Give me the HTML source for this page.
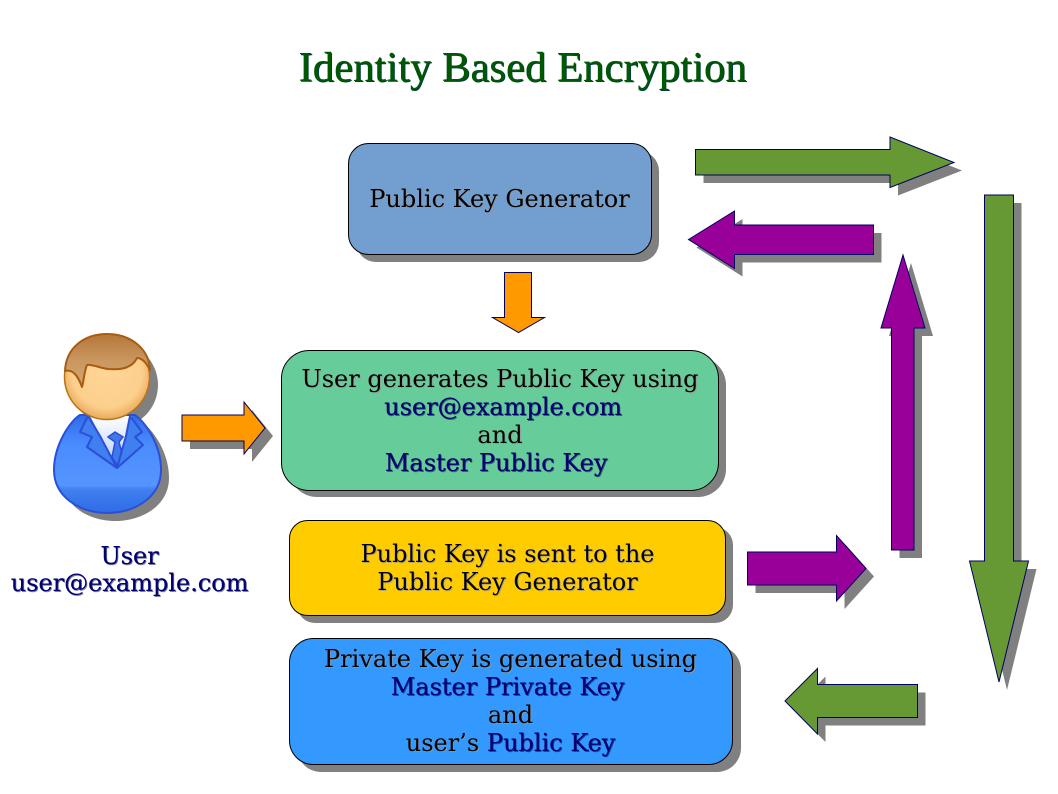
<!DOCTYPE html>
<html><head><meta charset="utf-8"><style>
html,body{margin:0;padding:0;background:#fff}
#c{position:relative;width:1058px;height:794px;overflow:hidden;background:#fff}
svg{position:absolute;left:0;top:0}
.t{position:absolute;font-family:"DejaVu Serif",serif;font-size:24px;line-height:28px;text-align:center;white-space:nowrap;color:#000;text-shadow:1px 1px 0 rgba(150,150,150,.7)}
.b{color:#000070;text-shadow:1px 1px 0 rgba(0,0,80,.5),.5px 0 0 rgba(0,0,100,.5)}
#title{position:absolute;left:222.500px;width:600px;top:43px;text-align:center;font-family:"Liberation Serif",serif;font-size:42.700px;line-height:50px;color:#005800;text-shadow:1px 1px 0 #004040;white-space:nowrap}
</style></head><body><div id="c">
<svg width="1058" height="794" viewBox="0 0 1058 794">
<defs>
<radialGradient id="sk" cx=".5" cy=".45" r=".55"><stop offset="0" stop-color="#ffd596"/><stop offset=".75" stop-color="#fccf8c"/><stop offset="1" stop-color="#e9a95c"/></radialGradient>
<linearGradient id="hr" x1="0" y1="0" x2="0" y2="1"><stop offset="0" stop-color="#b5763a"/><stop offset=".5" stop-color="#c9975f"/><stop offset="1" stop-color="#d3a670"/></linearGradient>
<linearGradient id="bd" x1="0" y1="0" x2="0" y2="1"><stop offset="0" stop-color="#2f6ae6"/><stop offset=".3" stop-color="#4a8cff"/><stop offset=".72" stop-color="#5595ff"/><stop offset=".76" stop-color="#4080f0"/><stop offset="1" stop-color="#2f6be6"/></linearGradient>
<linearGradient id="sh" x1="0" y1="0" x2="0" y2="1"><stop offset="0" stop-color="#fff"/><stop offset="1" stop-color="#b5ccff"/></linearGradient>
</defs>
<!-- shadows -->
<g fill="#808080">
<rect x="356" y="151" width="303" height="111" rx="20"/>
<rect x="289" y="357" width="437" height="140" rx="28"/>
<rect x="297" y="527" width="436" height="96" rx="18"/>
<rect x="297" y="646" width="444" height="126" rx="24"/>
<path transform="translate(8 8)" d="M695.500 149.500H890V137L954 162.500L890 187.500V175H695.500Z"/>
<path transform="translate(8 8)" d="M688.500 239.500L734.500 211V225H873.500V254.500H734.500V268.500Z"/>
<path transform="translate(8 8)" d="M182 415H244V402L265 428L244 454V441H182Z"/>
<path transform="translate(8 8)" d="M903 255L925 328H914V550H891.500V328H881Z"/>
<path transform="translate(8 8)" d="M747.500 552H836.500V535.500L866 568.500L836.500 601V585H747.500Z"/>
<path transform="translate(8 8)" d="M984.500 195H1013.500V561H1028.500L999 682L969.500 561H984.500Z"/>
<path transform="translate(8 8)" d="M785 701L817.500 668.500V684.500H917.500V717.500H817.500V734Z"/>
<path transform="translate(8 8)" d="M80 415C70 421 54 445 54 470C54 497 80 513 107 513C135 513 161 497 161 470C161 445 146 423 135 415Z"/>
<circle cx="115" cy="385" r="43"/>
</g>
<!-- boxes -->
<g stroke="#000" stroke-width="1">
<rect x="348.500" y="143.500" width="303" height="111" rx="20" fill="#729fcf"/>
<rect x="281.500" y="350.500" width="437" height="140" rx="28" fill="#66cc99"/>
<rect x="289.500" y="520.500" width="436" height="95" rx="18" fill="#ffcc00"/>
<rect x="289.500" y="638.500" width="443" height="126" rx="24" fill="#3399ff"/>
</g>
<!-- arrows -->
<g stroke="#000060" stroke-width="1" stroke-linejoin="miter">
<path fill="#669933" d="M695.500 149.500H890V137L954 162.500L890 187.500V175H695.500Z"/>
<path fill="#990099" d="M688.500 239.500L734.500 211V225H873.500V254.500H734.500V268.500Z"/>
<path fill="#ff9900" d="M504.500 272.500H531.500V317.500H544.500L518.500 332.500L492.500 317.500H504.500Z"/>
<path fill="#ff9900" d="M182 415H244V402L265 428L244 454V441H182Z"/>
<path fill="#990099" d="M903 255L925 328H914V550H891.500V328H881Z"/>
<path fill="#990099" d="M747.500 552H836.500V535.500L866 568.500L836.500 601V585H747.500Z"/>
<path fill="#669933" d="M984.500 195H1013.500V561H1028.500L999 682L969.500 561H984.500Z"/>
<path fill="#669933" d="M785 701L817.500 668.500V684.500H917.500V717.500H817.500V734Z"/>
</g>
<!-- person -->
<path d="M80 415C70 421 54 445 54 470C54 497 80 513 107 513C135 513 161 497 161 470C161 445 146 423 135 415Z" fill="url(#bd)" stroke="#2a4fd8" stroke-width="2"/>
<path d="M90 416L117 467L132 416Z" fill="url(#sh)"/>
<path d="M108 437L115 432L123 437L119 442L123 457L117 465L112 457L115 442Z" fill="#3f78e8" stroke="#2a4fd8" stroke-width="1.500"/>
<path d="M88 416L80 432L92 437L87 447L117 468L100 436Z" fill="#3f7ff0" stroke="#2a4fd8" stroke-width="2" stroke-linejoin="round"/>
<path d="M130 416L142 432L135 437L143 445L117 468L126 436Z" fill="#3f7ff0" stroke="#2a4fd8" stroke-width="2" stroke-linejoin="round"/>
<circle cx="107" cy="377" r="42.500" fill="url(#sk)" stroke="#b87414" stroke-width="1.500"/>
<path d="M65 371C66 347 85 334 107 334C130 334 149 348 150 370C146 362 142 358 137 358C132 368 122 370 108 369C100 368 92 364 87 365C84 372 84 380 82 387C78 376 73 369 65 371Z" fill="url(#hr)" stroke="#a85c10" stroke-width="2" stroke-linejoin="round"/>
</svg>
<div id="title">Identity Based Encryption</div>
<div class="t" style="left:299.500px;width:400px;top:185px">Public Key Generator</div>
<div class="t" style="left:250px;width:500px;top:365px">User generates Public Key using<br><span class="b" style="position:relative;left:3px">user@example.com</span><br>and<br><span class="b" style="position:relative;left:-4px">Master Public Key</span></div>
<div class="t" style="left:257.500px;width:500px;top:540px">Public Key is sent to the<br>Public Key Generator</div>
<div class="t" style="left:260.500px;width:500px;top:645px">Private Key is generated using<br><span class="b" style="position:relative;left:-3px">Master Private Key</span><br>and<br>user’s <span class="b">Public Key</span></div>
<div class="t b" style="left:0;width:259px;top:543px;line-height:27px">User<br>user@example.com</div>
</div></body></html>
